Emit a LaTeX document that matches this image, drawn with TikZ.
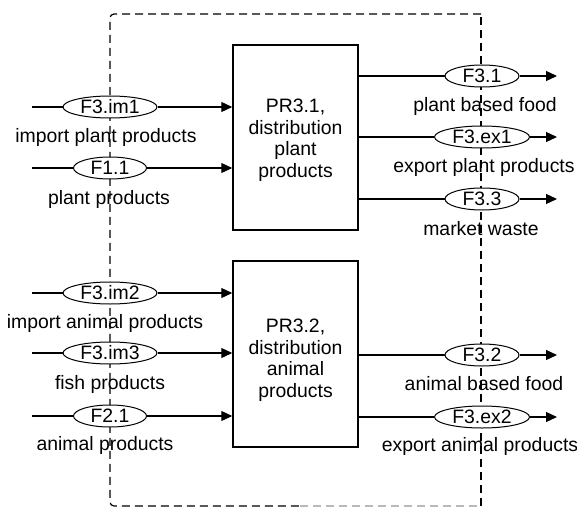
\documentclass[tikz,border=0pt]{standalone}
\usepackage{fontspec}
\setmainfont{Liberation Sans}
\usetikzlibrary{shapes.geometric,arrows.meta}

\tikzset{
  txt/.style={font=\fontsize{19.4}{21.5}\selectfont},
  process/.style={draw, line width=1.5pt, inner sep=0pt, minimum width=125pt},
  proctext/.style={txt, align=center, inner sep=0pt},
  flow/.style={txt, ellipse, draw, fill=white, line width=1pt, inner sep=0pt,
               minimum height=22pt},
  lbl/.style={txt, inner sep=0pt, anchor=base},
  link/.style={line width=1.2pt},
  arr/.style={link, -{Triangle[length=11pt,width=10pt]}},
  border/.style={line width=1.2pt, dash pattern=on 8pt off 5pt},
}

\begin{document}
\begin{tikzpicture}[x=1pt,y=-1pt]
\useasboundingbox (0,0) rectangle (577,508);

% system boundary (dashed)
\draw[border] (481,506) -- (481,14);
\draw[border, rounded corners=4pt] (481,14) -- (110,14) -- (110,506) -- (300,506);
\draw[border, gray!55] (300,506) -- (481,506);

% processes
\node[process, minimum height=185pt] (pr1) at (295.5,137.5) {};
\node[proctext, yshift=-2.5pt] (pr1t) at (pr1.center)
  {PR3.1,\\distribution\\plant\\products};
\node[process, minimum height=186pt] (pr2) at (295.5,354) {};
\node[proctext, yshift=-6pt] (pr2t) at (pr2.center)
  {PR3.2,\\distribution\\animal\\products};

% inflows
\coordinate (s1) at (32,107);
\coordinate (s2) at (32,168);
\coordinate (s3) at (32,293);
\coordinate (s4) at (32,353);
\coordinate (s5) at (32,416);
\node[flow, minimum width=94pt] (im1) at (110,107) {F3.im1};
\node[flow, minimum width=73pt] (f11) at (110,168) {F1.1};
\node[flow, minimum width=94pt] (im2) at (110,293) {F3.im2};
\node[flow, minimum width=94pt] (im3) at (110,353) {F3.im3};
\node[flow, minimum width=73pt] (f21) at (110,416) {F2.1};

\draw[link] (s1) -- (im1);  \draw[arr] (im1) -- (pr1.west |- im1);
\draw[link] (s2) -- (f11);  \draw[arr] (f11) -- (pr1.west |- f11);
\draw[link] (s3) -- (im2);  \draw[arr] (im2) -- (pr2.west |- im2);
\draw[link] (s4) -- (im3);  \draw[arr] (im3) -- (pr2.west |- im3);
\draw[link] (s5) -- (f21);  \draw[arr] (f21) -- (pr2.west |- f21);

\node[lbl] (lim1) at (106,142) {import plant products};
\node[lbl] (lf11) at (109,204) {plant products};
\node[lbl] (lim2) at (105,328.5) {import animal products};
\node[lbl] (lim3) at (110,389) {fish products};
\node[lbl] (lf21) at (105,450) {animal products};

% outflows
\coordinate (t1) at (557,76);
\coordinate (t2) at (557,137);
\coordinate (t3) at (557,199);
\coordinate (t4) at (557,355);
\coordinate (t5) at (557,417);
\node[flow, minimum width=74pt] (f31) at (482,76) {F3.1};
\node[flow, minimum width=95pt] (ex1) at (482,137) {F3.ex1};
\node[flow, minimum width=74pt] (f33) at (482,199) {F3.3};
\node[flow, minimum width=74pt] (f32) at (482,355) {F3.2};
\node[flow, minimum width=95pt] (ex2) at (482,417) {F3.ex2};

\draw[link] (pr1.east |- f31) -- (f31);  \draw[arr] (f31) -- (t1);
\draw[link] (pr1.east |- ex1) -- (ex1);  \draw[arr] (ex1) -- (t2);
\draw[link] (pr1.east |- f33) -- (f33);  \draw[arr] (f33) -- (t3);
\draw[link] (pr2.east |- f32) -- (f32);  \draw[arr] (f32) -- (t4);
\draw[link] (pr2.east |- ex2) -- (ex2);  \draw[arr] (ex2) -- (t5);

\node[lbl] (lf31) at (485,111.5) {plant based food};
\node[lbl] (lex1) at (484,172.5) {export plant products};
\node[lbl] (lf33) at (481,235) {market waste};
\node[lbl] (lf32) at (484,390) {animal based food};
\node[lbl] (lex2) at (480,451) {export animal products};
\end{tikzpicture}
\end{document}
